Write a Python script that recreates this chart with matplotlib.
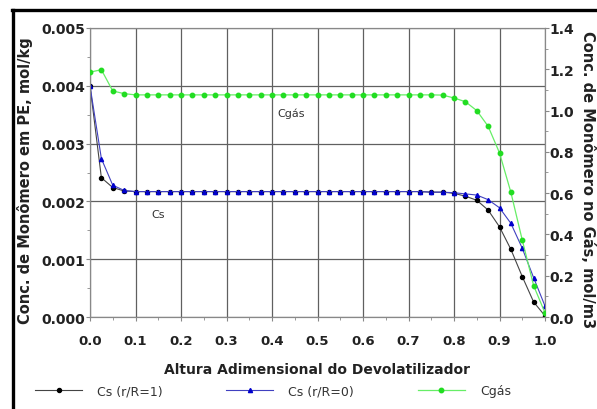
import matplotlib
matplotlib.use("Agg")
import matplotlib.pyplot as plt
from matplotlib.ticker import MultipleLocator, FormatStrFormatter
from matplotlib.lines import Line2D

plt.rcParams['font.family'] = ['DejaVu Sans']

x = [0.000, 0.025, 0.050, 0.075, 0.100, 0.125, 0.150, 0.175, 0.200, 0.225,
     0.250, 0.275, 0.300, 0.325, 0.350, 0.375, 0.400, 0.425, 0.450, 0.475,
     0.500, 0.525, 0.550, 0.575, 0.600, 0.625, 0.650, 0.675, 0.700, 0.725,
     0.750, 0.775, 0.800, 0.825, 0.850, 0.875, 0.900, 0.925, 0.950, 0.975,
     1.000]

cs_r1 = [0.00400, 0.00241, 0.00224, 0.00218, 0.00217, 0.00217, 0.00217, 0.00217, 0.00217, 0.00217,
         0.00217, 0.00217, 0.00217, 0.00217, 0.00217, 0.00217, 0.00217, 0.00217, 0.00217, 0.00217,
         0.00217, 0.00217, 0.00217, 0.00217, 0.00217, 0.00217, 0.00217, 0.00217, 0.00217, 0.00217,
         0.00216, 0.00216, 0.00214, 0.00209, 0.00202, 0.00185, 0.00156, 0.00117, 0.00070, 0.00026,
         0.00002]

cs_r0 = [0.00400, 0.00274, 0.00228, 0.00219, 0.00217, 0.00217, 0.00217, 0.00217, 0.00217, 0.00217,
         0.00217, 0.00217, 0.00217, 0.00217, 0.00217, 0.00217, 0.00217, 0.00217, 0.00217, 0.00217,
         0.00217, 0.00217, 0.00217, 0.00217, 0.00217, 0.00217, 0.00217, 0.00217, 0.00217, 0.00217,
         0.00216, 0.00216, 0.00215, 0.00213, 0.00211, 0.00203, 0.00189, 0.00162, 0.00119, 0.00068,
         0.00019]

cgas = [1.186, 1.198, 1.095, 1.082, 1.076, 1.076, 1.076, 1.076, 1.076, 1.076,
        1.076, 1.076, 1.076, 1.076, 1.076, 1.076, 1.076, 1.076, 1.076, 1.076,
        1.076, 1.076, 1.076, 1.076, 1.076, 1.076, 1.076, 1.076, 1.076, 1.076,
        1.076, 1.075, 1.061, 1.043, 1.000, 0.924, 0.795, 0.604, 0.373, 0.152,
        0.020]

labels = ["Cs (r/R=1)", "Cs (r/R=0)", "Cgás"]

W, H = 597, 410
fig = plt.figure(figsize=(W / 100, H / 100), dpi=100)
L, R, T, B = 90, 545, 29, 318
ax = fig.add_axes([L / W, 1 - B / H, (R - L) / W, (B - T) / H])
ax2 = ax.twinx()

tc = '#222222'
l1, = ax.plot(x, cs_r1, color='#444444', lw=0.8, marker='o', ms=2.9,
              mfc='black', mec='black', label=labels[0], zorder=3)
l2, = ax.plot(x, cs_r0, color='#4040c0', lw=0.8, marker='^', ms=3.0,
              mfc='#0000cc', mec='#0000cc', label=labels[1], zorder=4)
l3, = ax2.plot(x, cgas, color='#66ee66', lw=0.9, marker='o', ms=3.2,
               mfc='#22dd22', mec='#22dd22', label=labels[2], zorder=3)

ax.set_xlim(0, 1.0)
ax.set_ylim(0, 0.005)
ax2.set_ylim(0, 1.4)

ax.xaxis.set_major_locator(MultipleLocator(0.1))
ax.xaxis.set_minor_locator(MultipleLocator(0.05))
ax.yaxis.set_major_locator(MultipleLocator(0.001))
ax.yaxis.set_minor_locator(MultipleLocator(0.0005))
ax2.yaxis.set_major_locator(MultipleLocator(0.2))
ax2.yaxis.set_minor_locator(MultipleLocator(0.1))
ax.xaxis.set_major_formatter(FormatStrFormatter('%.1f'))
ax.yaxis.set_major_formatter(FormatStrFormatter('%.3f'))
ax2.yaxis.set_major_formatter(FormatStrFormatter('%.1f'))

ax.grid(True, which='major', color='#606060', lw=0.9)
ax.set_axisbelow(True)

for a in (ax, ax2):
    for s in a.spines.values():
        s.set_color('#888888')
        s.set_linewidth(0.8)

ax.tick_params(axis='y', which='major', direction='out', length=3, width=0.8,
               color='#888888', pad=0.5, labelsize=10, labelcolor=tc)
ax.tick_params(axis='y', which='minor', direction='out', length=2, width=0.6, color='#888888')
ax.tick_params(axis='x', which='major', direction='out', length=3, width=0.8,
               color='#888888', pad=9, labelsize=9.5, labelcolor=tc)
ax.tick_params(axis='x', which='minor', direction='out', length=2, width=0.6, color='#888888')
ax2.tick_params(axis='y', which='major', direction='out', length=3, width=0.8,
                color='#888888', pad=0.5, labelsize=10, labelcolor=tc)
ax2.tick_params(axis='y', which='minor', direction='out', length=2, width=0.6, color='#888888')

for lab in ax.get_xticklabels() + ax.get_yticklabels() + ax2.get_yticklabels():
    lab.set_fontweight('bold')

ax.set_xlabel("Altura Adimensional do Devolatilizador", fontsize=10,
              fontweight='bold', color=tc)
ax.xaxis.set_label_coords(0.5, -0.157)
ax.set_ylabel("Conc. de Monômero em PE, mol/kg", fontsize=10.5,
              fontweight='bold', color=tc)
ax.yaxis.set_label_coords(-0.125, 0.477)
ax2.set_ylabel("Conc. de Monômero no Gás, mol/m3", fontsize=10.5,
               fontweight='bold', color=tc, rotation=270, va='bottom')
ax2.yaxis.set_label_coords(1.077, 0.48)

ax.text(0.411, 0.003534, "Cgás", fontsize=8, color='#333333', va='center', ha='left')
ax.text(0.134, 0.001776, "Cs", fontsize=8, color='#333333', va='center', ha='left')

fig.legend(handles=[l1, l2, l3], labels=labels, loc='center left',
           bbox_to_anchor=(35 / W, 1 - 392 / H), ncol=3, frameon=False,
           fontsize=9, handlelength=3.76, handletextpad=1.2, columnspacing=5.1,
           borderpad=0, borderaxespad=0, labelcolor='#333333')

fig.add_artist(Line2D([12 / W, 1.0], [1 - 11 / H, 1 - 11 / H], color='black',
                      lw=2.4, transform=fig.transFigure))
fig.add_artist(Line2D([13 / W, 13 / W], [0, 1 - 11 / H], color='black',
                      lw=2.4, transform=fig.transFigure))

fig.savefig("out.png", dpi=100)
